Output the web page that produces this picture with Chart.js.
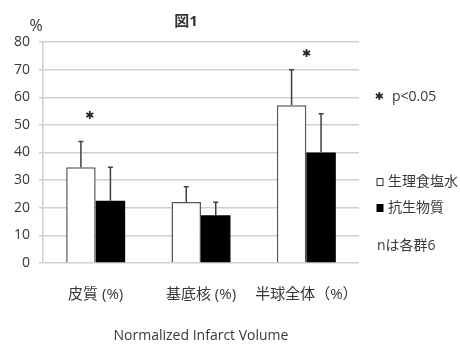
<!DOCTYPE html>
<html>
<head>
<meta charset="utf-8">
<script src="https://cdn.jsdelivr.net/npm/chart.js@4/dist/chart.umd.min.js"></script>
<style>
  html, body { margin: 0; padding: 0; background: #fff; }
  #wrap { width: 460px; height: 347px; }
</style>
</head>
<body>
<div id="wrap"><canvas id="chart" width="460" height="347"></canvas></div>
<script>
const categories = ['皮質 (%)', '基底核 (%)', '半球全体（%）']
const seriesNames = ['生理食塩水', '抗生物質']
const salineMeans = [34.7, 22.1, 57.1]
const salineErr = [9.3, 5.5, 12.9]
const antibioticMeans = [22.5, 17.3, 40.0]
const antibioticErr = [12.2, 4.7, 14.0]
const sigCategories = [0, 2]
const sigLevels = [53, 75.5]
const chartTitle = '図1'
const unitLabel = '%'
const axisTitle = 'Normalized Infarct Volume'
const sigNote = 'p<0.05'
const sampleNote = 'nは各群6'

const FONT = '"Open Sans", "Noto Sans CJK JP", sans-serif'
const TEXT = '#383838'

const errors = [salineErr, antibioticErr]

const decorations = {
  id: 'decorations',
  afterDatasetsDraw(chart) {
    const ctx = chart.ctx
    const y = chart.scales.y
    const x = chart.scales.x
    ctx.save()

    // error bars (upper only)
    ctx.strokeStyle = '#404040'
    ctx.lineWidth = 1.5
    errors.forEach((errs, di) => {
      const meta = chart.getDatasetMeta(di)
      const means = chart.data.datasets[di].data
      meta.data.forEach((bar, i) => {
        const top = y.getPixelForValue(means[i] + errs[i])
        ctx.beginPath()
        ctx.moveTo(bar.x, bar.y)
        ctx.lineTo(bar.x, top)
        ctx.moveTo(bar.x - 2.5, top)
        ctx.lineTo(bar.x + 2.5, top)
        ctx.stroke()
      })
    })

    // significance marks
    ctx.fillStyle = '#222'
    ctx.textAlign = 'center'
    ctx.textBaseline = 'middle'
    ctx.font = 'bold 11px "DejaVu Sans", sans-serif'
    sigCategories.forEach((ci, k) => {
      ctx.fillText('✱', x.getPixelForValue(ci) - (ci === 0 ? 6 : 0), y.getPixelForValue(sigLevels[k]))
    })

    // title and unit
    ctx.fillStyle = '#333'
    ctx.font = 'bold 15px ' + FONT
    ctx.fillText(chartTitle, 186, 22)
    ctx.font = '16px ' + FONT
    ctx.fillText(unitLabel, 36, 26)

    // notes / legend on the right
    ctx.font = 'bold 11px "DejaVu Sans", sans-serif'
    ctx.fillStyle = '#222'
    ctx.fillText('✱', 379, 97)
    ctx.textAlign = 'left'
    ctx.fillStyle = TEXT
    ctx.font = '14px ' + FONT
    ctx.fillText(sigNote, 392, 97)

    ctx.strokeStyle = '#333'
    ctx.lineWidth = 1
    ctx.fillStyle = '#fff'
    ctx.fillRect(377, 178.5, 6, 7)
    ctx.strokeRect(377, 178.5, 6, 7)
    ctx.fillStyle = '#000'
    ctx.fillRect(376.5, 204, 7, 8)
    ctx.fillStyle = TEXT
    ctx.fillText(seriesNames[0], 388, 182)
    ctx.fillText(seriesNames[1], 388, 208)
    ctx.fillText(sampleNote, 377, 246)

    ctx.restore()
  }
}

new Chart(document.getElementById('chart'), {
  type: 'bar',
  data: {
    labels: categories,
    datasets: [
      {
        label: seriesNames[0],
        data: salineMeans,
        backgroundColor: '#ffffff',
        borderColor: '#555555',
        borderWidth: 1.5
      },
      {
        label: seriesNames[1],
        data: antibioticMeans,
        backgroundColor: '#000000',
        borderColor: '#000000',
        borderWidth: 0
      }
    ]
  },
  options: {
    responsive: false,
    animation: false,
    devicePixelRatio: 1,
    categoryPercentage: 0.56,
    barPercentage: 1.0,
    layout: { padding: { left: 0, right: 101, top: 42, bottom: 0 } },
    plugins: {
      legend: { display: false },
      title: { display: false },
      tooltip: { enabled: false }
    },
    scales: {
      x: {
        grid: { display: false, drawTicks: false },
        border: { display: false },
        ticks: {
          padding: 23,
          autoSkip: false,
          maxRotation: 0,
          minRotation: 0,
          color: TEXT,
          font: { family: FONT, size: 15 }
        },
        title: {
          display: true,
          text: axisTitle,
          color: TEXT,
          padding: { top: 0, bottom: 3 },
          font: { family: FONT, size: 14 }
        },
        afterFit: (s) => { s.height = 84 }
      },
      y: {
        min: 0,
        max: 80,
        ticks: { stepSize: 10, padding: 9, color: TEXT, font: { family: FONT, size: 14 } },
        grid: { color: '#d0d0d0', lineWidth: 1.5, tickLength: 4 },
        border: { color: '#d0d0d0', width: 1.5 },
        afterFit: (s) => { s.width = 43 }
      }
    }
  },
  plugins: [decorations]
})
</script>
</body>
</html>
